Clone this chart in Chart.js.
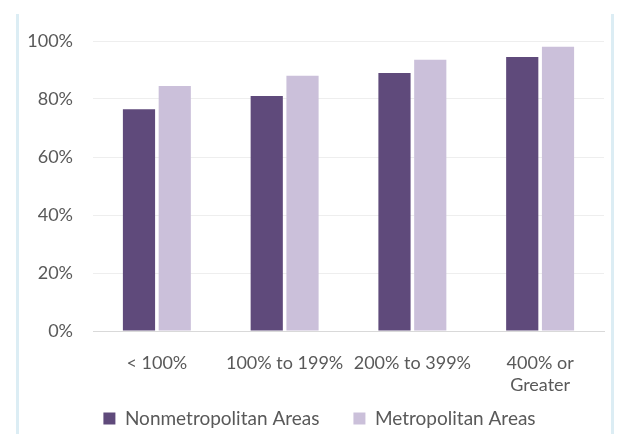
<!DOCTYPE html>
<html>
<head>
<meta charset="utf-8">
<script src="https://cdn.jsdelivr.net/npm/chart.js@4/dist/chart.umd.min.js"></script>
<style>
  html, body { margin: 0; padding: 0; background: #fff; }
  #wrap { position: relative; width: 617px; height: 434px; overflow: hidden; }
  .edge { position: absolute; top: 14px; bottom: 0; width: 3px; background: #dcedf4; }
  #chart { position: absolute; left: 0; top: 0; }
</style>
</head>
<body>
<div id="wrap">
  <div class="edge" style="left:16px"></div>
  <div class="edge" style="left:611px"></div>
  <canvas id="chart" width="617" height="434"></canvas>
</div>
<script>
const categories = ["< 100%", "100% to 199%", "200% to 399%", ["400% or", "Greater"]];
const nonmetro = [76.5, 81, 89, 94.5];
const metro = [84.5, 88, 93.5, 98];
const yTicks = [0, 20, 40, 60, 80, 100];

const textColor = "#595959";
const fontFamily = "Lato, 'Open Sans', sans-serif";

// the legend uses a wide item gap (labels.padding), which also pads it vertically;
// reserve only a short box for it, then move it up so the row sits under the axis labels
const legendRow = {
  id: "legendRow",
  beforeInit(chart) {
    const fit = chart.legend.fit;
    chart.legend.fit = function () {
      fit.call(this);
      this.height = 37;
    };
  },
  afterLayout(chart) {
    const lg = chart.legend;
    lg.top = 375;
    lg.bottom = chart.height;
    lg.left += 4;
    lg.right += 4;
  }
};

new Chart(document.getElementById("chart"), {
  type: "bar",
  data: {
    labels: categories,
    datasets: [
      {
        label: "Nonmetropolitan Areas",
        data: nonmetro,
        backgroundColor: "#5f4a7b",
        categoryPercentage: 0.56,
        barPercentage: 0.9
      },
      {
        label: "Metropolitan Areas",
        data: metro,
        backgroundColor: "#cbc0da",
        categoryPercentage: 0.56,
        barPercentage: 0.9
      }
    ]
  },
  plugins: [legendRow],
  options: {
    responsive: false,
    animation: false,
    layout: { padding: { top: 41, right: 13, bottom: 0, left: 27 } },
    plugins: {
      tooltip: { enabled: false },
      legend: {
        position: "bottom",
        labels: {
          color: textColor,
          font: { family: fontFamily, size: 19 },
          boxWidth: 12,
          boxHeight: 12,
          padding: 34
        }
      }
    },
    scales: {
      x: {
        afterFit: (scale) => { scale.height = 66; },
        grid: { display: false, drawTicks: false },
        border: { color: "#d9d9d9", width: 1 },
        ticks: {
          color: textColor,
          font: { family: fontFamily, size: 18, lineHeight: 1.22 },
          padding: 21,
          maxRotation: 0,
          autoSkip: false
        }
      },
      y: {
        min: 0,
        max: 100,
        afterFit: (scale) => { scale.width = 66; },
        afterBuildTicks: (scale) => { scale.ticks = yTicks.map((v) => ({ value: v })); },
        grid: { color: "#eeeeee", drawTicks: false },
        border: { display: false },
        ticks: {
          color: textColor,
          font: { family: fontFamily, size: 18 },
          padding: 20,
          callback: (v) => v + "%"
        }
      }
    }
  }
});
</script>
</body>
</html>
